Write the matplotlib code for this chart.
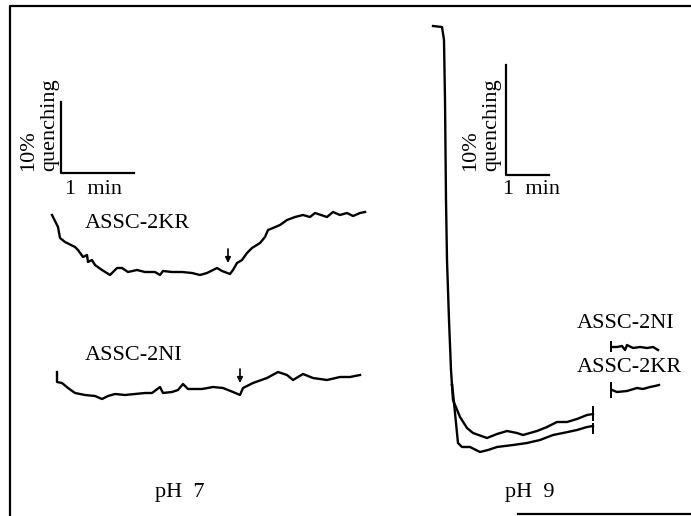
import matplotlib
matplotlib.use("Agg")
import matplotlib.pyplot as plt

# Trazas (x = tiempo, y = senal, en unidades de la imagen)
kr7_t = [52, 58, 60, 65, 75, 78, 83, 87, 88, 92, 95, 102, 110, 117, 122, 128, 137, 145, 155, 160,
         163, 172, 182, 192, 200, 207, 213, 217, 222, 230, 233, 237, 242, 247, 252, 260, 265, 268,
         273, 280, 287, 295, 303, 310, 315, 327, 333, 340, 347, 353, 360, 365]
kr7_y = [215, 227, 238, 242, 247, 250, 257, 255, 262, 260, 265, 270, 275, 268, 268, 272, 270, 272, 272, 275,
         271, 272, 272, 273, 275, 273, 270, 268, 271, 274, 270, 263, 260, 253, 248, 243, 237, 230,
         228, 225, 220, 217, 215, 217, 213, 217, 212, 215, 213, 216, 213, 212]

ni7_t = [57, 57, 62, 68, 75, 85, 95, 102, 108, 115, 125, 135, 145, 152, 160, 163, 172, 178, 183, 188,
         202, 213, 223, 233, 240, 243, 253, 267, 278, 287, 293, 303, 313, 327, 340, 350, 360]
ni7_y = [372, 382, 383, 388, 393, 395, 396, 399, 396, 394, 395, 394, 393, 393, 387, 393, 392, 390, 384, 389,
         389, 387, 388, 392, 395, 388, 383, 378, 372, 375, 380, 374, 378, 380, 377, 377, 375]

# pH 9: tramo comun (caida rapida) y las dos ramas
ph9_t = [433, 442, 444, 445, 446, 447, 449, 451, 452]
ph9_y = [26, 27, 40, 100, 200, 260, 320, 370, 385]
ni9_t = [452, 453, 458, 462, 470, 480, 488, 497, 513, 527, 540, 553, 563, 577, 587, 593]
ni9_y = [385, 393, 443, 447, 447, 452, 450, 447, 445, 443, 440, 435, 433, 430, 427, 426]
kr9_t = [452, 453, 460, 467, 473, 487, 497, 507, 517, 523, 537, 547, 557, 567, 577, 587, 593]
kr9_y = [385, 400, 417, 428, 433, 438, 434, 431, 433, 435, 431, 427, 422, 422, 419, 415, 414]

# trazas cortas a la derecha
ni9b_t = [612, 617, 622, 625, 627, 633, 640, 647, 653, 658]
ni9b_y = [347, 347, 346, 350, 345, 348, 347, 348, 347, 350]
kr9b_t = [612, 617, 627, 637, 643, 650, 655, 659]
kr9b_y = [390, 392, 391, 388, 389, 387, 386, 385]

plt.rcParams['font.family'] = ['Liberation Serif', 'DejaVu Serif']

fig = plt.figure(figsize=(6.91, 5.16), dpi=100)
ax = fig.add_axes([0, 0, 1, 1])
ax.set_xlim(0, 691)
ax.set_ylim(516, 0)
ax.axis("off")

lw = 1.7
for t, y in [(kr7_t, kr7_y), (ni7_t, ni7_y), (ph9_t, ph9_y), (ni9_t, ni9_y),
             (kr9_t, kr9_y), (ni9b_t, ni9b_y), (kr9b_t, kr9b_y)]:
    ax.plot(t, y, color="k", linewidth=lw, solid_joinstyle="round")

# marcas de fin / inicio
ax.plot([593, 593], [407, 420], color="k", linewidth=1.4)
ax.plot([593, 593], [424, 433], color="k", linewidth=1.4)
ax.plot([611, 611], [342, 351], color="k", linewidth=1.4)
ax.plot([611, 611], [383, 397], color="k", linewidth=1.4)

# flechas de adicion
for xa, y0, y1 in [(228, 249, 263), (240, 369, 383)]:
    ax.annotate("", xy=(xa, y1), xytext=(xa, y0),
                arrowprops=dict(arrowstyle="-|>", color="k", lw=1.2,
                                mutation_scale=8, shrinkA=0, shrinkB=0))

# marco
ax.plot([10, 10, 691], [516, 6, 6], color="k", linewidth=1.6)
ax.plot([518, 691], [514, 514], color="k", linewidth=1.6)

# barras de escala
ax.plot([61, 61, 134], [102, 173, 173], color="k", linewidth=1.6)
ax.plot([506, 506, 549], [65, 175, 175], color="k", linewidth=1.6)

fs = 16
ax.text(29, 171, "10%", rotation=90, fontsize=fs, ha="center", va="bottom")
ax.text(50, 171, "quenching", rotation=90, fontsize=fs, ha="center", va="bottom")
ax.text(65, 190, "1  min", fontsize=fs, ha="left", va="center")
ax.text(471, 171, "10%", rotation=90, fontsize=fs, ha="center", va="bottom")
ax.text(492, 171, "quenching", rotation=90, fontsize=fs, ha="center", va="bottom")
ax.text(503, 189, "1  min", fontsize=fs, ha="left", va="center")

ax.text(85, 223, "ASSC-2KR", fontsize=fs, ha="left", va="center")
ax.text(85, 356, "ASSC-2NI", fontsize=fs, ha="left", va="center")
ax.text(577, 323, "ASSC-2NI", fontsize=fs, ha="left", va="center")
ax.text(577, 368, "ASSC-2KR", fontsize=fs, ha="left", va="center")

ax.text(155, 493, "pH  7", fontsize=fs, ha="left", va="center")
ax.text(505, 493, "pH  9", fontsize=fs, ha="left", va="center")

fig.savefig("out.png", dpi=100)
